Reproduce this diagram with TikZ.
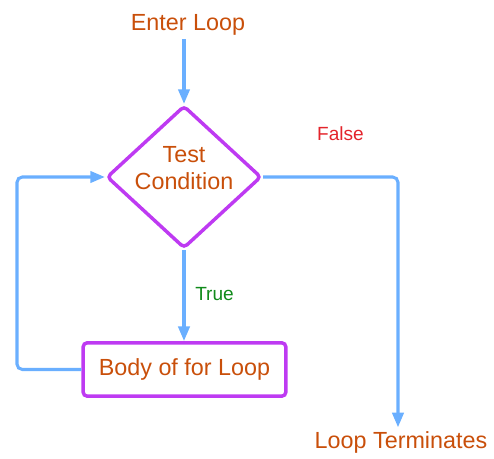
\documentclass[tikz,border=0pt]{standalone}
\usepackage{fontspec}
\setmainfont{Liberation Sans}
\usetikzlibrary{shapes.geometric,arrows.meta}

\definecolor{flowblue}{HTML}{6AAFFF}
\definecolor{flowpurple}{HTML}{BE3AF2}
\definecolor{flowtext}{HTML}{C94F0A}
\definecolor{truegreen}{HTML}{108A1A}
\definecolor{falsered}{HTML}{E3242B}

\begin{document}
\begin{tikzpicture}[
                    x=0.75pt, y=-0.75pt,
                    flow/.style={draw=flowblue, line width=2.3pt, rounded corners=4pt,
                                 -{Triangle[width=8.5pt,length=11pt]}},
                    txt/.style={text=flowtext, inner sep=3pt, font=\fontsize{17.5}{20.5}\selectfont},
                    cond/.style={inner sep=2pt, font=\fontsize{14.3}{17}\selectfont},
                    decision/.style={diamond, draw=flowpurple, line width=2.6pt, rounded corners=3pt,
                                     minimum width=116pt, minimum height=107pt, inner sep=0pt},
                    block/.style={rectangle, draw=flowpurple, line width=2.6pt, rounded corners=3pt,
                                  minimum width=152pt, minimum height=40pt, txt}
                ]
                \useasboundingbox (0,0) rectangle (494,459);

                \node[txt] (enter) at (188,24.5) {Enter Loop};
                \node[decision, label={[txt, align=center, yshift=6.5pt]center:Test\\Condition}] (test) at (184,177) {};
                \node[block] (body) at (184.5,369.5) {Body of for Loop};
                \node[txt] (term) at (401,442.5) {Loop Terminates};

                \node[cond, text=truegreen] (true) at (214.5,294) {True};
                \node[cond, text=falsered] (false) at (340.5,134) {False};

                \coordinate (back) at (17,369.5);

                \draw[flow] (enter.south -| test.north) -- (test.north);
                \draw[flow] (test.south) -- (test.south |- body.north);
                \draw[flow] (body.west) -- (back) |- (test.west);
                \draw[flow] (test.east) -| ([xshift=-2.25pt]term.north);

            \end{tikzpicture}
\end{document}
